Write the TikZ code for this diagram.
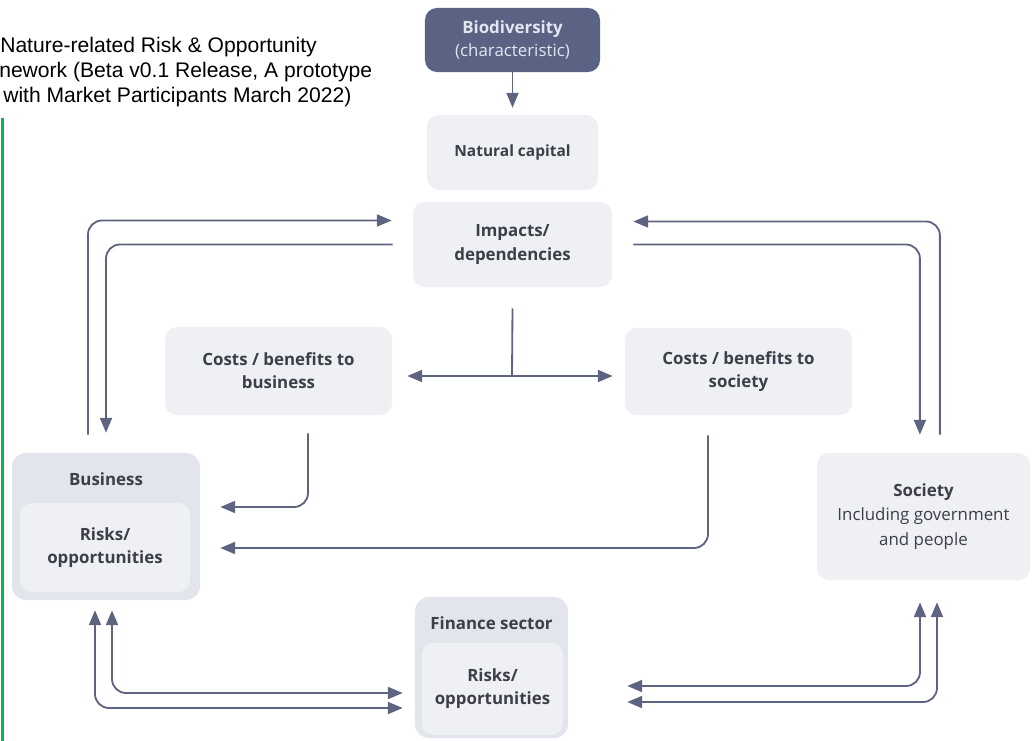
\documentclass[tikz,border=0pt]{standalone}
\usepackage{fontspec}
\setmainfont{Open Sans}
\newfontfamily\titlefont{Liberation Sans}
\usetikzlibrary{arrows.meta}

\definecolor{arrowgray}{RGB}{94,100,128}
\definecolor{boxgray}{RGB}{238,240,244}
\definecolor{outergray}{RGB}{226,229,235}
\definecolor{biofill}{RGB}{90,99,131}
\definecolor{textdark}{RGB}{60,63,73}
\definecolor{biotext}{RGB}{226,230,240}
\definecolor{barGreen}{RGB}{14,178,80}

\begin{document}
\begin{tikzpicture}[
    x=0.025cm, y=-0.025cm,
    arr/.style={draw=arrowgray, line width=1.3pt, rounded corners=0.35cm,
        -{Triangle[length=10.5pt,width=8.5pt]}},
    dbl/.style={arr, {Triangle[length=10.5pt,width=8.5pt]}-{Triangle[length=10.5pt,width=8.5pt]}},
    box/.style={fill=boxgray, rounded corners=0.3cm, align=center, text=textdark,
        font=\fontsize{12}{16.5}\selectfont\bfseries, inner sep=0pt},
    outerbox/.style={fill=outergray, rounded corners=0.35cm, inner sep=0pt},
    boxtitle/.style={text=textdark, font=\fontsize{12}{16.5}\selectfont\bfseries},
    caption/.style={anchor=base west, inner sep=0pt, text=black, font=\titlefont\fontsize{15}{18}\selectfont}
]

    % Frame
    \useasboundingbox (0,0) rectangle (1034,741);

    % Caption and green bar
    \node[caption] (cap1) at (0,53) {Nature-related Risk \& Opportunity};
    \node[caption] (cap2) at (-1,78) {nework (Beta v0.1 Release, A prototype};
    \node[caption] (cap3) at (3,103) {with Market Participants March 2022)};
    \draw[barGreen, line width=2.2pt] (2.5,118) -- (2.5,741);

    % Top column
    \node[box, fill=biofill, text=biotext, minimum width=4.375cm, minimum height=1.6cm] (bio) at (512.5,40)
        {Biodiversity\\{\mdseries (characteristic)}};
    \node[box, minimum width=4.275cm, minimum height=1.875cm,
        font=\fontsize{11}{14}\selectfont\bfseries] (nat) at (512.5,152.5) {Natural capital};
    \node[box, minimum width=4.975cm, minimum height=2.125cm] (imp) at (512.5,244.5) {Impacts/\\dependencies};

    % Costs / benefits
    \node[box, minimum width=5.675cm, minimum height=2.2cm] (cbb) at (278.5,371) {Costs / benefits to\\business};
    \node[box, minimum width=5.675cm, minimum height=2.175cm] (cbs) at (738.5,371.5) {Costs / benefits to\\society};

    % Society
    \node[box, minimum width=5.325cm, minimum height=3.175cm, font=\fontsize{12}{17.5}\selectfont\bfseries] (soc) at (923.5,516.5)
        {Society\\{\mdseries Including government}\\{\mdseries and people}};

    % Business
    \node[outerbox, minimum width=4.7cm, minimum height=3.675cm] (bus) at (106,526.5) {};
    \node[boxtitle] (bustitle) at (106,479) {Business};
    \node[box, minimum width=4.25cm, minimum height=2.225cm] (busrisk) at (105,547.5) {Risks/\\opportunities};

    % Finance sector
    \node[outerbox, minimum width=3.825cm, minimum height=3.525cm] (fin) at (491.5,667.5) {};
    \node[boxtitle] (fintitle) at (491.5,623) {Finance sector};
    \node[box, minimum width=3.525cm, minimum height=2.3cm] (finrisk) at (492.5,689) {Risks/\\opportunities};

    % Top arrow
    \draw[arr, shorten >=0.175cm] (bio) -- (nat);

    % Left loop
    \draw[arr] ([xshift=-0.45cm,yshift=0.45cm]bus.north) |- ([xshift=-0.525cm,yshift=0.6cm]imp.west);
    \draw[arr] ([xshift=-0.5cm]imp.west) -| ([yshift=0.5cm]bus.north);

    % Right loop
    \draw[arr] ([xshift=0.41cm,yshift=0.45cm]soc.north) |- ([xshift=0.525cm,yshift=0.575cm]imp.east);
    \draw[arr] ([xshift=0.525cm]imp.east) -| ([xshift=-0.09cm,yshift=0.45cm]soc.north);

    % Split to costs / benefits
    \coordinate (jn) at (512,376);
    \draw[draw=arrowgray, line width=1.3pt] ([yshift=-0.525cm]imp.south) -- (jn);
    \draw[arr, shorten >=0.375cm] (jn) -- (cbb.east |- jn);
    \draw[arr, shorten >=0.3cm] (jn) -- (cbs.west |- jn);

    % Costs / benefits into business
    \draw[arr] ([xshift=0.7375cm,yshift=-0.45cm]cbb.south) |- ([xshift=0.5cm,yshift=0.4875cm]bus.east);
    \draw[arr] ([xshift=-0.7625cm,yshift=-0.5cm]cbs.south) |- ([xshift=0.5cm,yshift=-0.5375cm]bus.east);

    % Business <-> finance
    \draw[dbl] ([xshift=-0.275cm,yshift=-0.25cm]bus.south) |- ([xshift=-0.3cm,yshift=-1.0125cm]fin.west);
    \draw[dbl] ([xshift=0.15cm,yshift=-0.25cm]bus.south) |- ([xshift=-0.3cm,yshift=-0.6375cm]fin.west);

    % Society <-> finance
    \draw[dbl] ([xshift=-0.0875cm,yshift=-0.55cm]soc.south) |- ([xshift=1.475cm,yshift=-0.4625cm]fin.east);
    \draw[dbl] ([xshift=0.3375cm,yshift=-0.55cm]soc.south) |- ([xshift=1.475cm,yshift=-0.8625cm]fin.east);

\end{tikzpicture}
\end{document}
